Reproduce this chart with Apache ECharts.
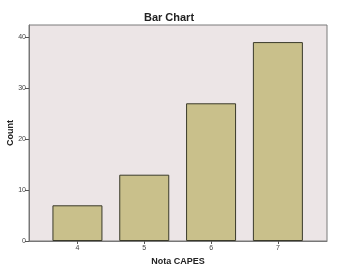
<!DOCTYPE html>
<html><head><meta charset="utf-8">
<script src="https://cdn.jsdelivr.net/npm/echarts@6/dist/echarts.min.js"></script>
<style>html,body{margin:0;padding:0;background:#fff}#c{width:346px;height:270px}</style>
</head><body><div id="c"></div>
<script>
const categories = [4, 5, 6, 7];
const counts = [7, 13, 27, 39];
const yTicks = [0, 10, 20, 30, 40];

const chart = echarts.init(document.getElementById('c'), null, {renderer: 'canvas'});
chart.setOption({
  animation: false,
  backgroundColor: '#ffffff',
  title: {
    text: 'Bar Chart', left: 164, top: 7, textAlign: 'center',
    textStyle: {fontFamily: 'Liberation Sans, Arial, sans-serif', fontSize: 11, fontWeight: 'bold', color: '#222'}
  },
  grid: {left: 29, right: 19, top: 25, bottom: 29, show: true, outerBoundsMode: 'none', containLabel: false,
    backgroundColor: '#ECE5E6', borderColor: '#7a7a7a', borderWidth: 1},
  xAxis: {
    type: 'value', min: 3.275, max: 7.735,
    name: 'Nota CAPES', nameLocation: 'middle', nameGap: 16, nameMoveOverlap: false,
    nameTextStyle: {fontFamily: 'Liberation Sans, Arial, sans-serif', fontSize: 9, fontWeight: 'bold', color: '#222'},
    splitLine: {show: false},
    axisLine: {show: true, lineStyle: {color: '#777', width: 1}},
    axisTick: {show: true, length: 3, customValues: categories, lineStyle: {color: '#555'}},
    axisLabel: {customValues: categories, fontSize: 7, color: '#444', margin: 4,
      fontFamily: 'Liberation Sans, Arial, sans-serif'}
  },
  yAxis: {
    type: 'value', min: 0, max: 42.35,
    name: 'Count', nameLocation: 'middle', nameGap: 14, nameRotate: 90, nameMoveOverlap: false,
    nameTextStyle: {fontFamily: 'Liberation Sans, Arial, sans-serif', fontSize: 9, fontWeight: 'bold', color: '#222'},
    splitLine: {show: false},
    axisLine: {show: true, lineStyle: {color: '#777', width: 1}},
    axisTick: {show: true, length: 4, customValues: yTicks, lineStyle: {color: '#555'}},
    axisLabel: {customValues: yTicks, fontSize: 7, color: '#444', margin: 3,
      fontFamily: 'Liberation Sans, Arial, sans-serif'}
  },
  series: [{
    type: 'bar',
    data: categories.map((c, i) => [c, counts[i]]),
    barWidth: 50,
    itemStyle: {color: '#C9C08B', borderColor: '#3a3a2a', borderWidth: 1}
  }]
});
</script></body></html>
